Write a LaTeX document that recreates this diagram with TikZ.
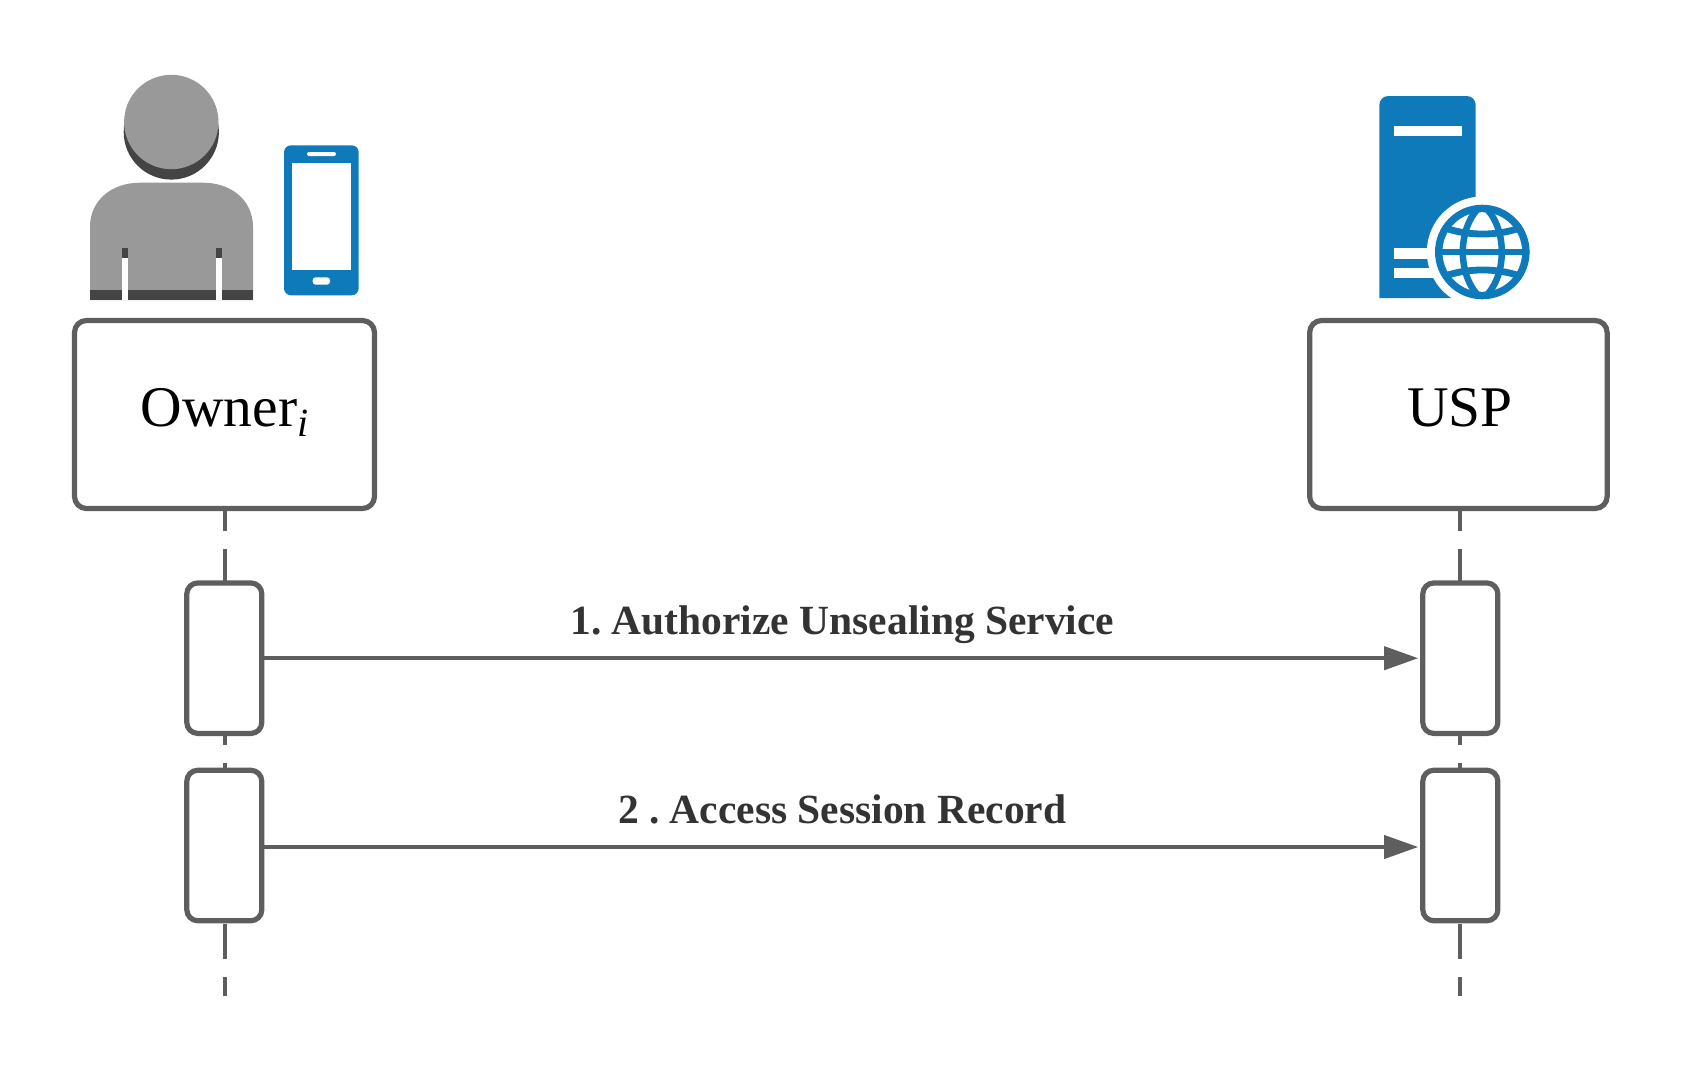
\documentclass[tikz,border=0pt]{standalone}
\usepackage{fontspec}
\setmainfont{Liberation Serif}
\usetikzlibrary{arrows.meta}
\definecolor{linegray}{HTML}{5E5E5E}
\definecolor{iconblue}{HTML}{0F7ABA}
\definecolor{persongray}{HTML}{999999}
\definecolor{persondark}{HTML}{444444}
\definecolor{labelgray}{HTML}{333333}
\tikzset{
  actorbox/.style={draw=linegray,line width=5.2pt,rounded corners=12pt,fill=white,minimum height=188pt,
    text=black,text height=24pt,text depth=0pt,inner sep=0pt,font=\fontsize{57.5pt}{60pt}\selectfont},
  actbox/.style={draw=linegray,line width=5.2pt,rounded corners=11pt,fill=white,minimum width=75pt,minimum height=150.5pt,inner sep=0pt},
  lifeline/.style={draw=linegray,line width=4.2pt,dash pattern=on 35.55pt off 18pt,dash phase=15.85pt},
  message/.style={draw=linegray,line width=3.9pt,-{Triangle[length=34pt,width=23pt]},shorten >=2pt},
  msglabel/.style={anchor=base,inner sep=0pt,text=labelgray,font=\frenchspacing\fontsize{41.5pt}{44pt}\selectfont\bfseries}
}
\begin{document}
\begin{tikzpicture}[x=1pt,y=-1pt]
\useasboundingbox[fill=white] (0,0) rectangle (1686,1071);
% actors
\node[actorbox,minimum width=300pt] (owner) at (224.5,414.5) {Owner\raisebox{-10pt}{\fontsize{40pt}{42pt}\selectfont\itshape i}};
\node[actorbox,minimum width=297.5pt] (usp) at (1458.4,414.5) {\hspace{3pt}USP};
\coordinate (ownerend) at (224.6,995.7);
\coordinate (uspend) at (1460,995.7);
% lifelines
\draw[lifeline] (ownerend |- owner.south) -- (ownerend);
\draw[lifeline] (uspend |- usp.south) -- (uspend);
% activations
\node[actbox] (oa) at (224.3,658.2) {};
\node[actbox] (ob) at (224.3,845.5) {};
\node[actbox] (ua) at (1460.3,658.2) {};
\node[actbox] (ub) at (1460.3,845.5) {};
% messages
\draw[message] (oa.east) -- (ua.west) node[midway,msglabel,yshift=24pt] (la) {1. Authorize Unsealing Service};
\draw[message] ([yshift=-1.5pt]ob.east) -- ([yshift=-1.5pt]ub.west) node[midway,msglabel,yshift=24pt] (lb) {2 . Access Session Record};
% person icon
\fill[persondark] (171.3,132) circle[radius=47.6];
\fill[persongray] (171.3,122) circle[radius=47.2];
\fill[persongray] (90,227) .. controls (90,200) and (112,182.7) .. (140,182.7) -- (203,182.7)
  .. controls (231,182.7) and (253,200) .. (253,227) -- (253,300) -- (90,300) -- cycle;
\fill[persondark] (90,290) rectangle (253,300);
\fill[persondark] (122.3,248.3) rectangle (127.7,258);
\fill[persondark] (216.3,248.3) rectangle (222,258);
\fill[white] (122.3,258) rectangle (127.7,300);
\fill[white] (216.3,258) rectangle (222,300);
% phone icon
\fill[iconblue,rounded corners=7pt] (284,145.3) rectangle (358.7,295.3);
\fill[white] (291.7,163) rectangle (351,270);
\fill[white,rounded corners=2pt] (307,152) rectangle (336,156);
\fill[white,rounded corners=3pt] (312.7,277.3) rectangle (330,284.7);
% server icon
\fill[iconblue] (1379.3,298) -- (1379.3,105) .. controls (1379.3,100) and (1383.3,96) .. (1388.3,96)
  -- (1466.7,96) .. controls (1471.7,96) and (1475.7,100) .. (1475.7,105) -- (1475.7,298) -- cycle;
\fill[white] (1394,125.7) rectangle (1461.7,136);
\fill[white] (1394,248) rectangle (1440,258.7);
\fill[white] (1394,268) rectangle (1440,278);
\fill[white] (1482.3,252) circle[radius=55.5];
\fill[white] (1475.7,290) rectangle (1500,300);
% globe
\fill[iconblue] (1482.3,252) circle[radius=47.3];
\begin{scope}
  \clip (1482.3,252) circle[radius=47];
  \fill[white] (1482.3,252) circle[radius=39.8];
  \draw[iconblue,line width=6.5pt] (1482.3,205) .. controls (1456.3,225) and (1456.3,279) .. (1482.3,299)
    .. controls (1508.3,279) and (1508.3,225) .. (1482.3,205);
  \draw[iconblue,line width=6.5pt] (1435,252) -- (1530,252);
  \draw[iconblue,line width=6.8pt] (1440,226) .. controls (1465,236.7) and (1500,236.7) .. (1525,226);
  \draw[iconblue,line width=6.8pt] (1440,278) .. controls (1465,267.3) and (1500,267.3) .. (1525,278);
\end{scope}
\end{tikzpicture}
\end{document}
